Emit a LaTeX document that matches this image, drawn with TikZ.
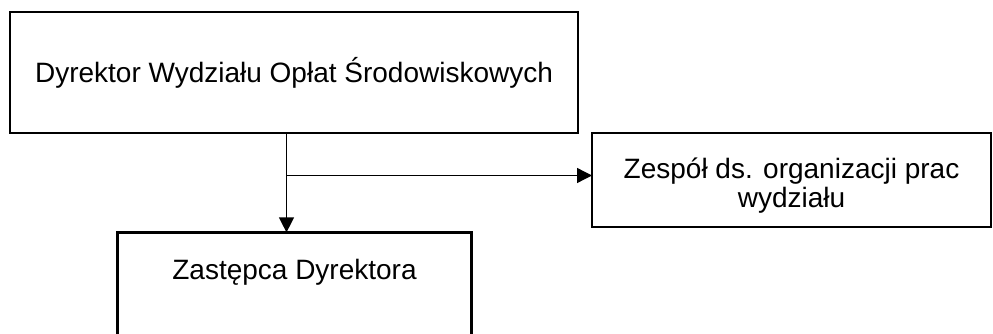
\documentclass[tikz,border=0pt]{standalone}
\usepackage{fontspec}
\setmainfont{Liberation Sans}
\usetikzlibrary{positioning,arrows.meta}

\begin{document}
\begin{tikzpicture}[x=1pt,y=1pt,
    box/.style={rectangle, draw, line width=2.6pt, outer sep=0pt, align=center,
        font=\fontsize{28pt}{29pt}\selectfont},
    link/.style={line width=1.3pt, -{Triangle[length=15pt,width=15pt]}}]
        \useasboundingbox (0,0) rectangle (993,-334);
        % Nodes
        \node (dyrektor) [box, minimum width=568pt, minimum height=121pt] at (294,-72.5) {Dyrektor Wydziału Opłat Środowiskowych};
        \node (zespol) [box, minimum width=399pt, minimum height=94pt, text height=54pt, text depth=0pt, anchor=north west, below right=0pt and 14pt of dyrektor.south east] {Zespół ds. organizacji prac\\wydziału};
        \node (zastepca) [box, minimum width=354pt, text height=20pt, text depth=120pt, inner ysep=27pt, anchor=north, below=99.4pt of dyrektor.south, xshift=0.5pt] {Zastępca Dyrektora};

        % Arrows
        \coordinate (split) at ([xshift=-7.5pt]dyrektor.south);
        \coordinate (branch) at ([yshift=-42.5pt]split);
        \draw[link] (split) -- (split |- zastepca.north);
        \draw[link] (branch) -- (branch -| zespol.west);
    \end{tikzpicture}
\end{document}
